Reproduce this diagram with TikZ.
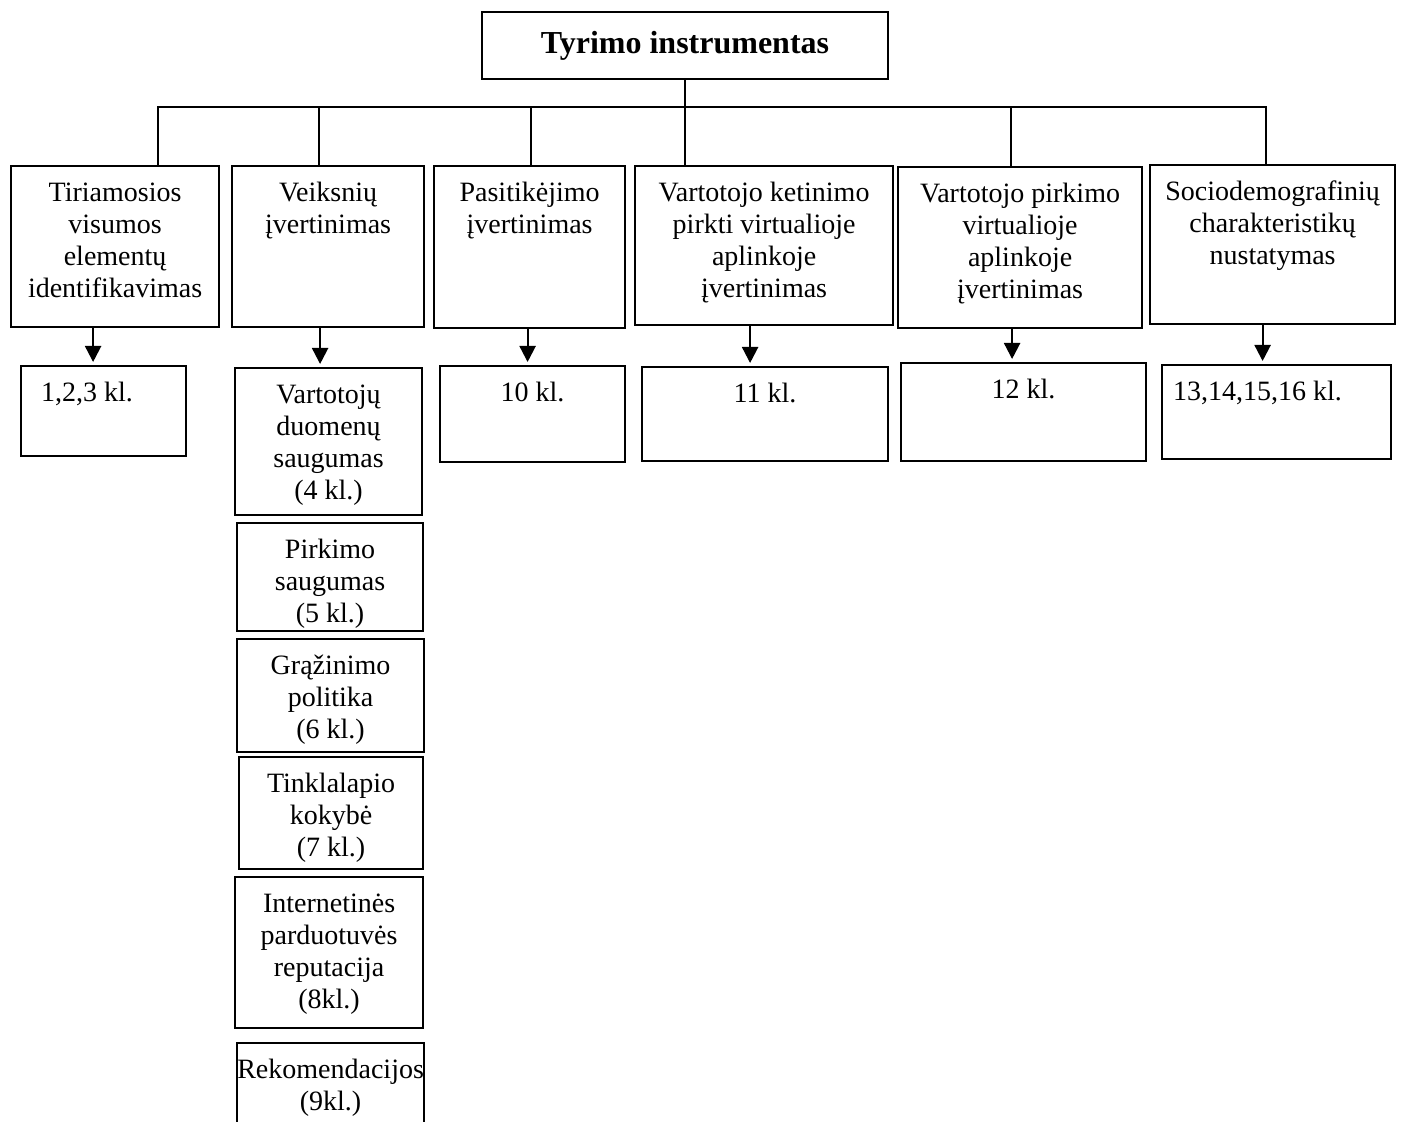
\documentclass[tikz,border=0pt]{standalone}
\usepackage{fontspec}
\setmainfont{Liberation Serif}
\usetikzlibrary{arrows.meta}
\newcommand{\cellText}[3]{\parbox[t][#2][t]{#1}{\centering\rule{0pt}{17.5pt}#3}}
\newcommand{\cellTextL}[4]{\parbox[t][#2][t]{#1}{\raggedright\hspace*{#3}\rule{0pt}{17.5pt}#4}}

\begin{document}
\begin{tikzpicture}[
  x=0.5pt,
  y=-0.5pt,
  every node/.style={font=\fontsize{14pt}{16pt}\selectfont},
  box/.style={draw, line width=1.1pt, inner sep=0pt, anchor=north west},
  link/.style={line width=1pt},
  arr/.style={line width=1.1pt, -{Triangle[width=8pt,length=8pt]}, shorten >=1.5pt}
]
  \useasboundingbox (0,0) rectangle (1405,1122);

  % top
  \node[draw, line width=1.2pt, minimum width=203pt, minimum height=33.5pt, inner sep=0pt,
        font=\bfseries\fontsize{16pt}{19pt}\selectfont] (top) at (685,45.5) {Tyrimo instrumentas};

  % upper row
  \node[box] (b1) at (10,165) {\cellText{104pt}{80.5pt}{Tiriamosios\\visumos\\elementų\\identifikavimas}};
  \node[box] (b2) at (231,165) {\cellText{96pt}{80.5pt}{Veiksnių\\įvertinimas}};
  \node[box] (b3) at (433,165) {\cellText{95.5pt}{81pt}{Pasitikėjimo\\įvertinimas}};
  \node[box] (b4) at (634,165) {\cellText{129pt}{79.5pt}{Vartotojo ketinimo\\pirkti virtualioje\\aplinkoje\\įvertinimas}};
  \node[box] (b5) at (897,166) {\cellText{122pt}{80.5pt}{Vartotojo pirkimo\\virtualioje\\aplinkoje\\įvertinimas}};
  \node[box] (b6) at (1149,164) {\cellText{122.5pt}{79.5pt}{Sociodemografinių\\charakteristikų\\nustatymas}};

  % bus
  \foreach \n/\x in {b1/158, b2/319, b3/531, b5/1011, b6/1266}
    \coordinate (d\n) at (\x,107);
  \draw[link] (db1 |- b1.north) -- (db1) -- (db6) -- (db6 |- b6.north);
  \foreach \n in {b2, b3, b5}
    \draw[link] (d\n) -- (d\n |- \n.north);
  \draw[link] (top.south) -- (top.south |- b4.north);

  % lower row
  \node[box] (c1) at (20,365) {\cellTextL{82.5pt}{45pt}{10pt}{1,2,3 kl.}};
  \node[box] (c2) at (234,367) {\cellText{93.5pt}{73.5pt}{Vartotojų\\duomenų\\saugumas\\(4 kl.)}};
  \node[box] (c3) at (236,522) {\cellText{93pt}{54pt}{Pirkimo\\saugumas\\(5 kl.)}};
  \node[box] (c4) at (236,638) {\cellText{93.5pt}{56.5pt}{Grąžinimo\\politika\\(6 kl.)}};
  \node[box] (c5) at (238,756) {\cellText{92pt}{56pt}{Tinklalapio\\kokybė\\(7 kl.)}};
  \node[box] (c6) at (234,876) {\cellText{94pt}{75.5pt}{Internetinės\\parduotuvės\\reputacija\\(8kl.)}};
  \node[box] (c7) at (236,1042) {\cellText{93.5pt}{50pt}{\makebox[\linewidth]{Rekomendacijos}\\(9kl.)}};
  \node[box] (c8) at (439,365) {\cellText{92.5pt}{48pt}{10 kl.}};
  \node[box] (c9) at (641,366) {\cellText{123pt}{47pt}{11 kl.}};
  \node[box] (c10) at (900,362) {\cellText{122.5pt}{49pt}{12 kl.}};
  \node[box] (c11) at (1161,364) {\cellTextL{114.5pt}{47pt}{5.5pt}{13,14,15,16 kl.}};

  % arrows
  \draw[arr] ([xshift=-11pt]b1.south) -- ([xshift=-11pt]b1.south |- c1.north);
  \draw[arr] ([xshift=-4pt]b2.south) -- ([xshift=-4pt]b2.south |- c2.north);
  \draw[arr] ([xshift=-1pt]b3.south) -- ([xshift=-1pt]b3.south |- c8.north);
  \draw[arr] ([xshift=-7pt]b4.south) -- ([xshift=-7pt]b4.south |- c9.north);
  \draw[arr] ([xshift=-4pt]b5.south) -- ([xshift=-4pt]b5.south |- c10.north);
  \draw[arr] ([xshift=-5pt]b6.south) -- ([xshift=-5pt]b6.south |- c11.north);
\end{tikzpicture}
\end{document}
